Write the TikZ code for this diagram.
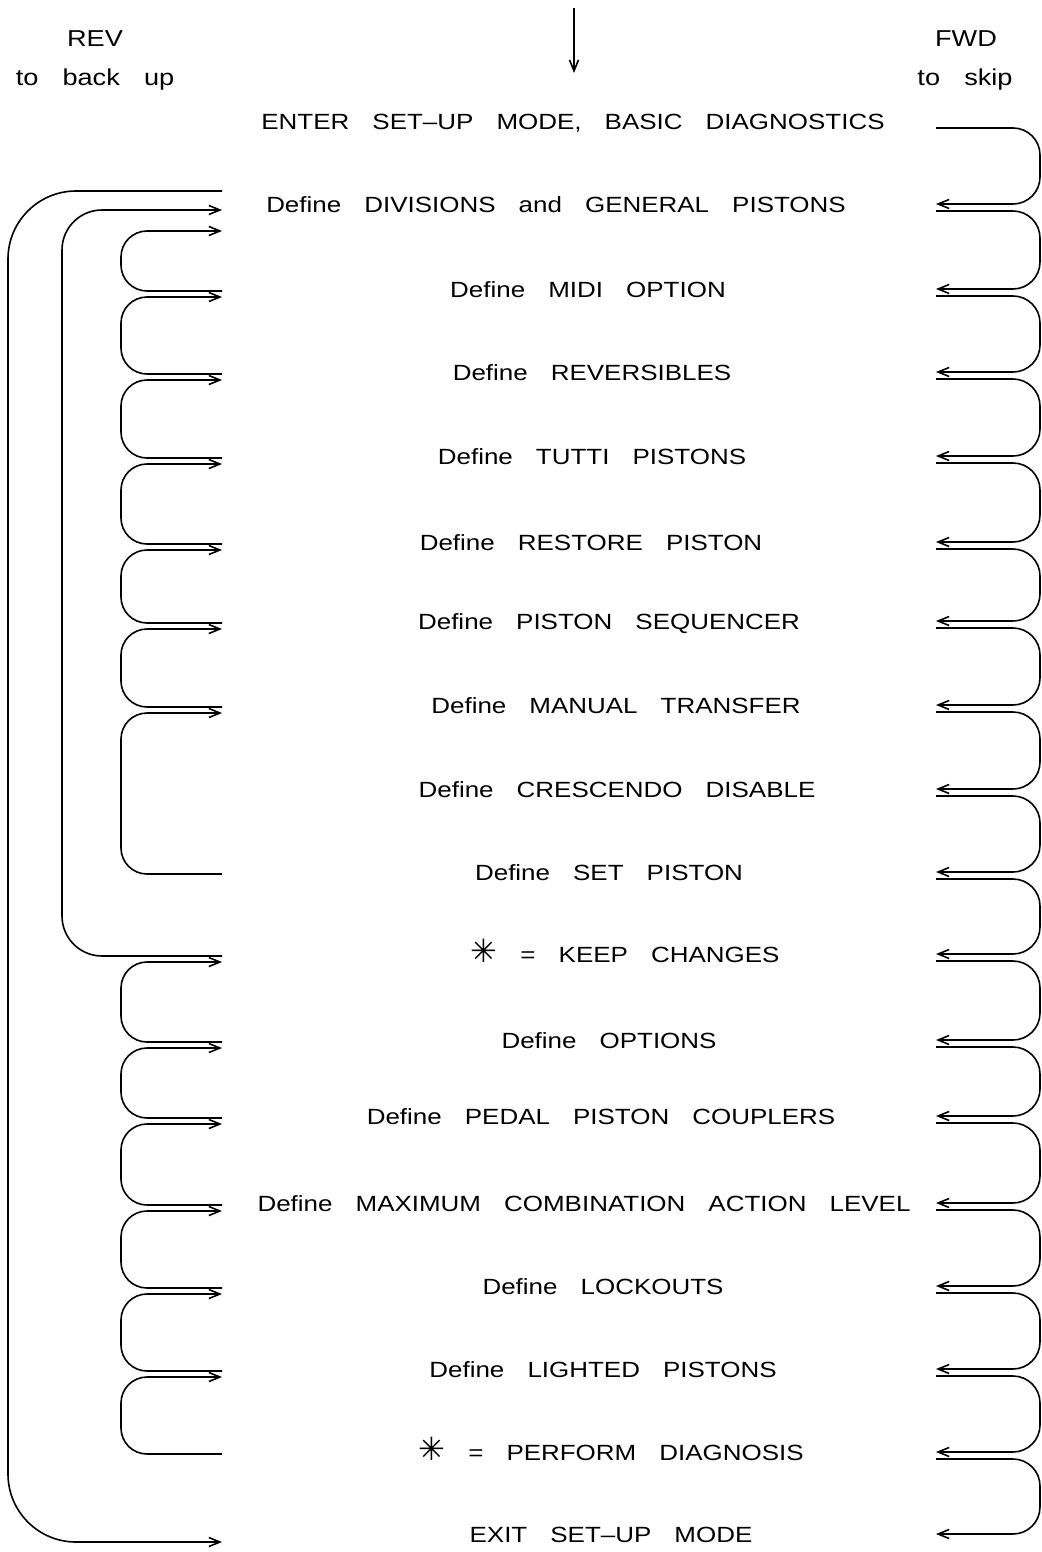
\documentclass[tikz,border=0pt]{standalone}
\usepackage{fontspec}
\setmainfont{Liberation Sans}[FakeStretch=1.18, WordSpace=3.2]
\newfontfamily\symfont{DejaVu Sans}
\usetikzlibrary{arrows.meta}
\newcommand{\starmark}{{\symfont\fontsize{32}{32}\selectfont ✳}}
\begin{document}
\begin{tikzpicture}[x=1pt,y=-1pt,
  lbl/.style={font=\fontsize{22}{26}\selectfont, inner sep=0pt, anchor=base},
  head/.style={font=\fontsize{23}{26}\selectfont, inner sep=0pt, anchor=base},
  conn/.style={line width=1.6pt, rounded corners=#1},
  conn/.default=26pt,
  tip/.style={-{Straight Barb[length=11pt,width=9pt]}}]
\useasboundingbox (0,0) rectangle (1041,1552);
% row coordinates
\foreach \i/\y in {0/121,1/204,2/289,3/372,4/456,5/542,6/621,7/705,8/789,9/872,10/954,11/1040,12/1116,13/1203,14/1286,15/1369,16/1452,17/1534}{
  \coordinate (Ri\i) at (936,\y);
  \coordinate (Ro\i) at (936,\y+7);
  \coordinate (Li\i) at (222,\y+8);
  \coordinate (Lo\i) at (222,\y+2);
}
\coordinate (RX) at (1040,0);
\coordinate (LX1) at (121,0);
\coordinate (LX2) at (62,0);
\coordinate (LX3) at (8,0);
\coordinate (Lm1) at (222,231);
\coordinate (Lk1) at (222,210);
\coordinate (Lt1) at (222,191);
\coordinate (top) at (574,8);
\coordinate (topend) at (574,73);

% labels
\node[head] (rev) at (95,47) {REV};
\node[head] (revb) at (95,86) {to back up};
\node[head] (fwd) at (966,47) {FWD};
\node[head] (fwdb) at (965,86) {to skip};

% rows
\node[lbl] (r0) at (573,129) {ENTER SET–UP MODE, BASIC DIAGNOSTICS};
\node[lbl] (r1) at (556,212) {Define DIVISIONS and GENERAL PISTONS};
\node[lbl] (r2) at (588,297) {Define MIDI OPTION};
\node[lbl] (r3) at (592,380) {Define REVERSIBLES};
\node[lbl] (r4) at (592,464) {Define TUTTI PISTONS};
\node[lbl] (r5) at (591,550) {Define RESTORE PISTON};
\node[lbl] (r6) at (609,629) {Define PISTON SEQUENCER};
\node[lbl] (r7) at (616,713) {Define MANUAL TRANSFER};
\node[lbl] (r8) at (617,797) {Define CRESCENDO DISABLE};
\node[lbl] (r9) at (609,880) {Define SET PISTON};
\node[lbl] (r10) at (625,962) {\starmark\ = KEEP CHANGES};
\node[lbl] (r11) at (609,1048) {Define OPTIONS};
\node[lbl] (r12) at (601,1124) {Define PEDAL PISTON COUPLERS};
\node[lbl] (r13) at (584,1211) {Define MAXIMUM COMBINATION ACTION LEVEL};
\node[lbl] (r14) at (603,1294) {Define LOCKOUTS};
\node[lbl] (r15) at (603,1377) {Define LIGHTED PISTONS};
\node[lbl] (r16) at (611,1460) {\starmark\ = PERFORM DIAGNOSIS};
\node[lbl] (r17) at (611,1542) {EXIT SET–UP MODE};

% entry arrow
\draw[line width=1.6pt,tip] (top) -- (topend);

% FWD loops
\foreach \i [evaluate=\i as \j using int(\i+1)] in {0,...,16}{
  \draw[conn=27pt,tip] (Ro\i) -- (Ro\i -| RX) -- (Ri\j -| RX) -- (Ri\j);
}

% REV loops
\draw[conn,tip] (Lo2) -- (Lo2 -| LX1) -- (Lm1 -| LX1) -- (Lm1);
\foreach \j/\i in {3/2,4/3,5/4,6/5,7/6,9/7,11/10,12/11,13/12,14/13,15/14,16/15}{
  \draw[conn,tip] (Lo\j) -- (Lo\j -| LX1) -- (Li\i -| LX1) -- (Li\i);
}
\draw[conn=40pt,tip] (Lo10) -- (Lo10 -| LX2) -- (Lk1 -| LX2) -- (Lk1);
\draw[conn=68pt,tip] (Lt1) -- (Lt1 -| LX3) -- (Li17 -| LX3) -- (Li17);
\end{tikzpicture}
\end{document}
